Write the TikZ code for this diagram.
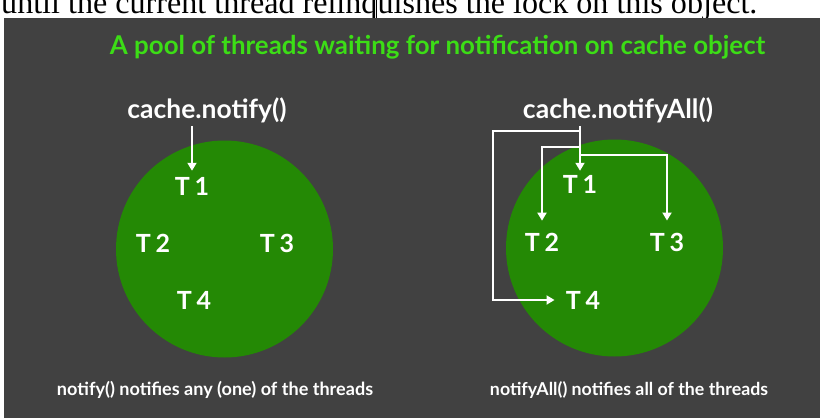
\documentclass[tikz,border=0pt]{standalone}
\usepackage{fontspec}
\setmainfont{Liberation Serif}
\newfontfamily\lato{Lato}
\usetikzlibrary{arrows.meta}
\definecolor{bg}{RGB}{65,65,65}
\definecolor{disc}{RGB}{36,137,5}
\definecolor{ttl}{RGB}{60,221,22}
\newcommand{\fw}[2]{\resizebox{#1pt}{!}{#2}}
\begin{document}
\begin{tikzpicture}[x=1pt,y=-1pt,
  lbl/.style={text=white, inner sep=0pt, font=\lato\bfseries},
  tlab/.style={text=white, inner sep=0pt, font=\lato\bfseries\fontsize{25}{27}\selectfont},
  pool/.style={circle, fill=disc, minimum size=217pt, inner sep=0pt},
  arr/.style={draw=white, line width=1.8pt, line join=miter, -{Triangle[width=9pt,length=8pt]}}]
\useasboundingbox (0,0) rectangle (820,418);
\clip (0,0) rectangle (820,418);
\fill[white] (0,0) rectangle (820,418);
\node[anchor=base west, inner sep=0pt] (cut) at (1,13) {\fw{756}{until the current thread relinquishes the lock on this object.}};
\fill[bg] (4,18) rectangle (820,418);
\draw[black, line width=0.8pt] (376,0) -- (376,18);
% title
\node[lbl, text=ttl] (title) at (437.5,47) {\fw{655}{A pool of threads waiting for notification on cache object}};
% left pool
\node[pool] (lpool) at (224.5,249) {};
\node[lbl] (notify) at (207,110) {\fw{159}{cache.notify()}};
\node[tlab] (lT1) at (192,186) {T\hspace{0.2em}1};
\node[tlab] (lT2) at (153,243) {T\hspace{0.2em}2};
\node[tlab] (lT3) at (277,243) {T\hspace{0.2em}3};
\node[tlab] (lT4) at (194,300) {T\hspace{0.2em}4};
\draw[arr] (notify.south -| lT1.north) ++(0,3) -- ([yshift=6pt]lT1.north);
% right pool
\node[pool] (rpool) at (614.5,248) {};
\node[lbl] (nall) at (618,110) {\fw{190}{cache.notifyAll()}};
\node[tlab] (rT1) at (580,184) {T\hspace{0.2em}1};
\node[tlab] (rT2) at (542,242) {T\hspace{0.2em}2};
\node[tlab] (rT3) at (667,242) {T\hspace{0.2em}3};
\node[tlab] (rT4) at (583,300) {T\hspace{0.2em}4};
\coordinate (s1) at (580,131);
\coordinate (s2) at (580,147);
\coordinate (s3) at (580,155);
\draw[arr] (nall.south -| rT1.north) ++(0,3) -- ([yshift=4pt]rT1.north);
\draw[arr] (s1) -- ++(-87,0) |- ([xshift=-11pt]rT4.west);
\draw[arr] (s2) -| ([yshift=12pt]rT2.north);
\draw[arr] (s3) -| ([yshift=12pt]rT3.north);
% captions
\node[lbl] (capl) at (215,390) {\fw{316}{notify() notifies any (one) of the threads}};
\node[lbl] (capr) at (629,390) {\fw{278}{notifyAll() notifies all of the threads}};
\end{tikzpicture}
\end{document}
